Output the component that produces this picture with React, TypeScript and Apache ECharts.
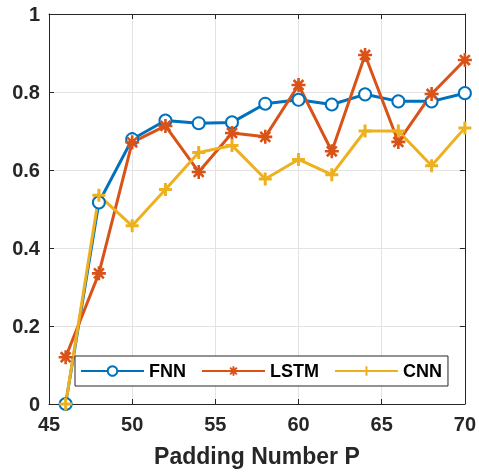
import React, { useEffect, useRef } from "react";
import * as echarts from "echarts";

const paddingP = [46, 48, 50, 52, 54, 56, 58, 60, 62, 64, 66, 68, 70];
const fnnValues = [0, 0.517, 0.679, 0.727, 0.72, 0.722, 0.77, 0.78, 0.768, 0.794, 0.776, 0.776, 0.797];
const lstmValues = [0.12, 0.335, 0.671, 0.713, 0.595, 0.695, 0.685, 0.818, 0.648, 0.895, 0.672, 0.795, 0.882];
const cnnValues = [0, 0.535, 0.457, 0.55, 0.645, 0.663, 0.577, 0.627, 0.588, 0.7, 0.7, 0.611, 0.708];
const seriesNames = ["FNN", "LSTM", "CNN"];
const colors = ["#0072BD", "#D95319", "#EDB120"];

const asterisk = "path://M6 0 L6 12 M0 6 L12 6 M1.76 1.76 L10.24 10.24 M1.76 10.24 L10.24 1.76";
const plus = "path://M6 0 L6 12 M0 6 L12 6";

const FONT = "'Liberation Sans', Arial, Helvetica, sans-serif";
const AXIS_COLOR = "#262626";

export default function App() {
  const ref = useRef<HTMLDivElement>(null);
  useEffect(() => {
    if (!ref.current) return;
    const chart = echarts.init(ref.current, undefined, { renderer: "svg" });
    const pairs = (vals: number[]) => paddingP.map((x, i) => [x, vals[i]]);
    const inTick = { show: true, inside: true, length: 5, lineStyle: { color: AXIS_COLOR, width: 1 } };
    const axisLine = { show: true, onZero: false, lineStyle: { color: AXIS_COLOR, width: 1 } };
    chart.setOption({
      animation: false,
      textStyle: { fontFamily: FONT },
      grid: { left: 49, right: 13, top: 14, bottom: 67, containLabel: false },
      legend: {
        left: 75,
        top: 356,
        orient: "horizontal",
        data: seriesNames,
        itemWidth: 63,
        itemHeight: 12,
        itemGap: 15,
        padding: [6, 6, 6, 5],
        backgroundColor: "#fff",
        borderColor: AXIS_COLOR,
        borderWidth: 1,
        borderRadius: 0,
        textStyle: { fontSize: 18, fontWeight: "bold", color: "#000", fontFamily: FONT },
      },
      xAxis: [
        {
          type: "value",
          min: 45,
          max: 70,
          interval: 5,
          position: "bottom",
          axisLine,
          axisTick: inTick,
          axisLabel: { fontSize: 20, fontWeight: "bold", color: AXIS_COLOR, margin: 10, fontFamily: FONT },
          splitLine: { show: true, lineStyle: { color: "#e3e3e3", width: 1 } },
          name: "Padding Number P",
          nameLocation: "middle",
          nameGap: 40,
          nameTextStyle: { fontSize: 23, fontWeight: "bold", color: AXIS_COLOR, fontFamily: FONT },
        },
        {
          type: "value",
          min: 45,
          max: 70,
          interval: 5,
          position: "top",
          axisLine,
          axisTick: inTick,
          axisLabel: { show: false },
          splitLine: { show: false },
        },
      ],
      yAxis: [
        {
          type: "value",
          min: 0,
          max: 1,
          interval: 0.2,
          position: "left",
          axisLine,
          axisTick: inTick,
          axisLabel: { fontSize: 20, fontWeight: "bold", color: AXIS_COLOR, margin: 9, fontFamily: FONT },
          splitLine: { show: true, lineStyle: { color: "#e3e3e3", width: 1 } },
        },
        {
          type: "value",
          min: 0,
          max: 1,
          interval: 0.2,
          position: "right",
          axisLine,
          axisTick: inTick,
          axisLabel: { show: false },
          splitLine: { show: false },
        },
      ],
      series: [
        {
          name: seriesNames[0],
          type: "line",
          data: pairs(fnnValues),
          symbol: "emptyCircle",
          symbolSize: 12,
          lineStyle: { color: colors[0], width: 3 },
          itemStyle: { color: colors[0], borderColor: colors[0], borderWidth: 2.6 },
        },
        {
          name: seriesNames[1],
          type: "line",
          data: pairs(lstmValues),
          symbol: asterisk,
          symbolSize: 14,
          lineStyle: { color: colors[1], width: 3 },
          itemStyle: { color: colors[1], borderColor: colors[1], borderWidth: 2.6 },
        },
        {
          name: seriesNames[2],
          type: "line",
          data: pairs(cnnValues),
          symbol: plus,
          symbolSize: 13,
          lineStyle: { color: colors[2], width: 3 },
          itemStyle: { color: colors[2], borderColor: colors[2], borderWidth: 3 },
        },
      ],
    });
    return () => chart.dispose();
  }, []);
  return <div ref={ref} style={{ position: "fixed", left: 0, top: 0, width: 479, height: 472 }} />;
}
